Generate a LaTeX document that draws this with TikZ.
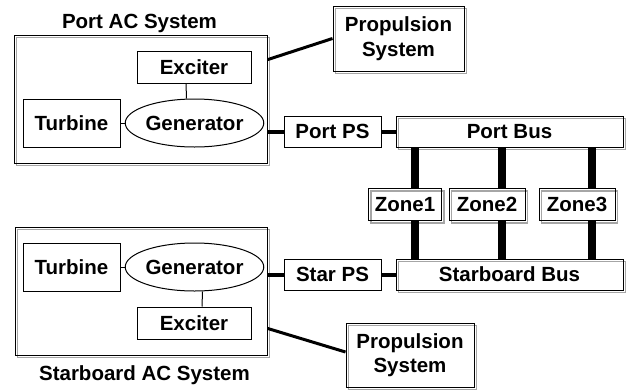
\documentclass[tikz,border=0pt]{standalone}
\usepackage{fontspec}
\setmainfont{Liberation Sans}
\usetikzlibrary{calc,shapes.geometric}

\begin{document}
\begin{tikzpicture}[x=1pt, y=-1pt,
  every node/.style={font=\fontsize{20.5}{24.5}\selectfont\bfseries, inner sep=0pt, align=center},
  box/.style={draw, line width=1pt, rectangle},
  shadowed/.style={preaction={draw=gray!70, line width=1.2pt, transform canvas={shift={(2.5pt,-2.5pt)}}}},
  oval/.style={draw, line width=1pt, ellipse},
  thin link/.style={line width=1pt},
  ps link/.style={line width=4pt},
  prop link/.style={line width=3pt},
  zone link/.style={line width=7.5pt}
]
\useasboundingbox (0,0) rectangle (627,389);

% ---- Port side AC system ----
\node[box, shadowed, minimum width=253pt, minimum height=128pt] (portac) at (140.5,99) {};
\node[anchor=base] (portactitle) at (139.5,28) {Port AC System};
\node[box, minimum width=114pt, minimum height=32pt] (pexc) at (194,67) {Exciter};
\node[box, minimum width=97pt, minimum height=48pt] (ptur) at (71.5,123) {Turbine};
\node[oval, minimum width=113pt, minimum height=48pt] (pgen) at (194.5,123) {Generator};
\draw[thin link] (ptur.east) -- (pgen.west);
\draw[thin link] ([xshift=-8pt]pexc.south) -- ([xshift=-8pt]pgen.north);

\node[box, shadowed, minimum width=131pt, minimum height=65pt] (pprop) at (398.5,38.5) {Propulsion\\System};
\node[box, minimum width=97pt, minimum height=31pt] (pps) at (332.5,131.5) {Port PS};
\node[box, shadowed, minimum width=227pt, minimum height=31pt] (pbus) at (509.5,131.5) {Port Bus};

\draw[prop link] ($(portac.north east)!0.195!(portac.south east)$) -- (pprop.west);
\draw[ps link] (portac.east |- pps.west) -- (pps.west);
\draw[ps link] (pps.east) -- (pbus.west);

% ---- Zones ----
\node[box, shadowed, minimum width=73pt, minimum height=32pt] (z1) at (405,204.5) {Zone1};
\node[box, shadowed, minimum width=76pt, minimum height=32pt] (z2) at (487,204.5) {Zone2};
\node[box, shadowed, minimum width=76pt, minimum height=32pt] (z3) at (577,204.5) {Zone3};

% ---- Starboard side AC system ----
\node[box, shadowed, minimum width=252pt, minimum height=128pt] (sac) at (141,291) {};
\node[anchor=base] (sactitle) at (144.5,380) {Starboard AC System};
\node[box, minimum width=97pt, minimum height=48pt] (stur) at (71.5,267) {Turbine};
\node[oval, minimum width=113pt, minimum height=48pt] (sgen) at (194.5,267) {Generator};
\node[box, minimum width=114pt, minimum height=32pt] (sexc) at (194,323) {Exciter};
\draw[thin link] (stur.east) -- (sgen.west);
\draw[thin link] ([xshift=8pt]sgen.south) -- ([xshift=8pt]sexc.north);

\node[box, minimum width=97pt, minimum height=31pt] (sps) at (332.5,274.5) {Star PS};
\node[box, shadowed, minimum width=227pt, minimum height=31pt] (sbus) at (509.5,274.5) {Starboard Bus};
\node[box, shadowed, minimum width=128pt, minimum height=64pt] (sprop) at (410,355) {Propulsion\\System};

\draw[ps link] (sac.east |- sps.west) -- (sps.west);
\draw[ps link] (sps.east) -- (sbus.west);
\draw[prop link] ($(sac.north east)!0.79!(sac.south east)$) -- ([yshift=3pt]sprop.west);

% ---- Bus taps to the zones ----
\coordinate (tap1) at (415,0);
\coordinate (tap2) at (502,0);
\coordinate (tap3) at (592,0);
\foreach \z/\t in {z1/tap1, z2/tap2, z3/tap3} {
  \draw[zone link] (pbus.south -| \t) -- (\z.north -| \t);
  \draw[zone link] (\z.south -| \t) -- (sbus.north -| \t);
}
\end{tikzpicture}
\end{document}
